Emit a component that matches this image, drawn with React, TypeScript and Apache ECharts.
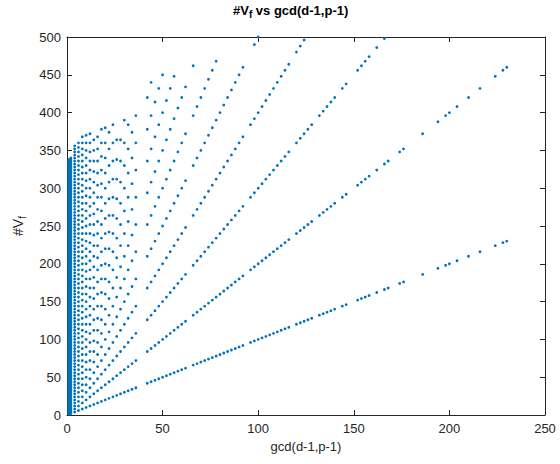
import React, { useEffect, useRef } from "react";
import * as echarts from "echarts";

// gcd(d-1,p-1) values seen as columns / positions along the rays
const gcdValues = [
  1, 2, 4, 6, 8, 10, 12, 14, 16, 18, 20, 22, 24, 26, 28, 30, 32, 34, 36,
  42, 44, 46, 48, 50, 52, 54, 56, 58, 60, 62, 66, 68, 70, 72, 74, 76, 78, 80,
  82, 84, 86, 88, 90, 92, 96, 98, 100, 102, 104, 106, 108, 110, 112, 114, 116,
  120, 122, 124, 126, 128, 132, 134, 136, 138, 140, 144, 146, 152, 154, 156,
  158, 162, 166, 168, 174, 176, 186, 194, 198, 200, 204, 210, 216, 224, 228, 230,
];
// highest multiple of the gcd reached by #V_f in each column (read from the top of each column)
const topMultiple = [
  338, 170, 89, 60, 46, 37, 31, 26, 23, 21, 19, 17, 16, 14, 13, 13, 12, 11, 11,
  10, 10, 9, 9, 9, 8, 8, 8, 7, 7, 7, 7, 6, 6, 6, 6, 6, 6, 5,
  5, 5, 5, 5, 5, 5, 4, 5, 5, 4, 4, 4, 4, 4, 4, 4, 4,
  4, 4, 4, 3, 3, 3, 3, 3, 3, 3, 3, 3, 3, 3, 3,
  3, 3, 3, 2, 2, 2, 2, 2, 2, 2, 2, 2, 2, 2, 2, 2,
];
const xTicks = [0, 50, 100, 150, 200, 250];
const yTicks = [0, 50, 100, 150, 200, 250, 300, 350, 400, 450, 500];

const FONT = "Arial, 'Liberation Sans', Helvetica, sans-serif";
const AX = "#262626";

export default function App() {
  const ref = useRef<HTMLDivElement>(null);
  useEffect(() => {
    if (!ref.current) return;
    const chart = echarts.init(ref.current, undefined, { renderer: "svg" });
    const points: number[][] = [];
    gcdValues.forEach((g, i) => {
      for (let k = 1; k <= topMultiple[i]; k++) points.push([g, g * k]);
    });
    const axisCommon = {
      axisLine: { show: true, onZero: false, lineStyle: { color: AX, width: 1 } },
      axisTick: { show: true, inside: true, length: 5, lineStyle: { color: AX } },
      splitLine: { show: false },
    };
    chart.setOption({
      animation: false,
      backgroundColor: "#ffffff",
      grid: { left: 67, right: 15, top: 37, bottom: 49, containLabel: false },
      xAxis: [
        {
          type: "value",
          min: xTicks[0],
          max: xTicks[xTicks.length - 1],
          interval: 50,
          position: "bottom",
          ...axisCommon,
          axisLabel: { color: AX, fontSize: 13, fontFamily: FONT, margin: 7 },
          name: "gcd(d-1,p-1)",
          nameLocation: "middle",
          nameGap: 24,
          nameTextStyle: { color: AX, fontSize: 13, fontFamily: FONT },
        },
        {
          type: "value",
          min: xTicks[0],
          max: xTicks[xTicks.length - 1],
          interval: 50,
          position: "top",
          ...axisCommon,
          axisLabel: { show: false },
        },
      ],
      yAxis: [
        {
          type: "value",
          min: yTicks[0],
          max: yTicks[yTicks.length - 1],
          interval: 50,
          position: "left",
          ...axisCommon,
          axisLabel: { color: AX, fontSize: 13, fontFamily: FONT, margin: 6 },
          name: "{a|#V}{s|f}",
          nameLocation: "middle",
          nameRotate: 90,
          nameGap: 40,
          nameTextStyle: {
            color: AX,
            fontFamily: FONT,
            rich: {
              a: { fontSize: 14, fontFamily: FONT, color: AX },
              s: { fontSize: 10, fontFamily: FONT, color: AX, padding: [9, 0, 0, 0] },
            },
          },
        },
        {
          type: "value",
          min: yTicks[0],
          max: yTicks[yTicks.length - 1],
          interval: 50,
          position: "right",
          ...axisCommon,
          axisLabel: { show: false },
        },
      ],
      graphic: [
        {
          type: "text",
          left: 233,
          top: 4,
          style: {
            text: "{b|#V}{s|f}{b| vs gcd(d-1,p-1)}",
            fill: "#000",
            rich: {
              b: { fontSize: 13, fontWeight: "bold", fontFamily: FONT, fill: "#000" },
              s: { fontSize: 10, fontWeight: "bold", fontFamily: FONT, fill: "#000", padding: [8, 0, 0, 0] },
            },
          },
        },
      ],
      series: [
        {
          type: "scatter",
          xAxisIndex: 0,
          yAxisIndex: 0,
          data: points,
          symbol: "circle",
          symbolSize: 2.8,
          itemStyle: { color: "#0072BD", opacity: 1 },
          clip: true,
          large: false,
        },
      ],
    });
    return () => chart.dispose();
  }, []);
  return (
    <div
      ref={ref}
      style={{ position: "fixed", left: 0, top: 0, width: 560, height: 464 }}
    />
  );
}
